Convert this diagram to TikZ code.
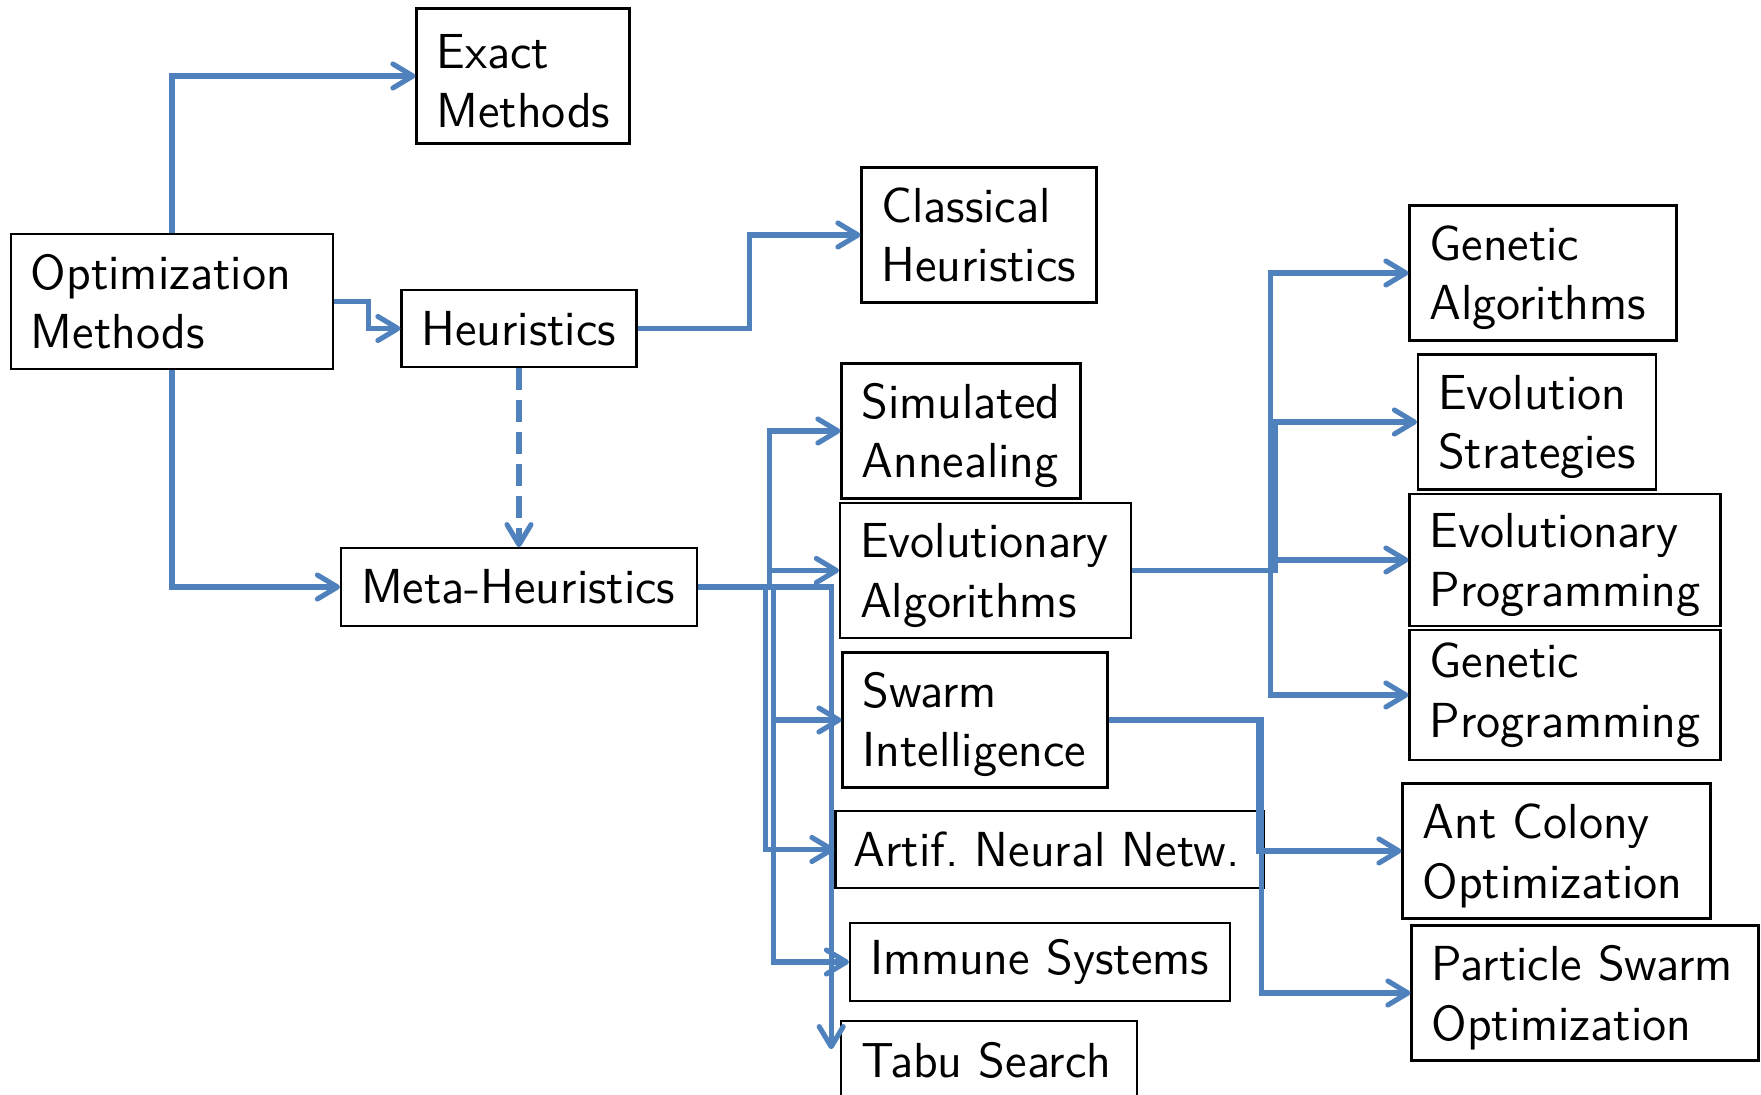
\documentclass[tikz,border=0pt]{standalone}
\usepackage{tikz}
\usetikzlibrary{positioning}
\usetikzlibrary{%
  calc,%
  arrows.meta%
}
\definecolor{linkblue}{RGB}{79,129,189}

\begin{document}
\begin{tikzpicture}[
  box/.style={draw=black, line width=0.6pt, align=left, inner xsep=0.2cm, inner ysep=0pt,
    font=\sffamily\fontsize{14}{16.9}\selectfont,
    execute at begin node={\hyphenpenalty=10000 \exhyphenpenalty=10000}},
  twoline/.style={box, minimum height=1.35cm},
  lowtext/.style={execute at begin node={\hyphenpenalty=10000 \rule{0pt}{12.6pt}}},
  oneline/.style={box, minimum height=0.775cm},
  link/.style={draw=linkblue, line width=1.45pt,
    -{Straight Barb[length=2mm,width=2.4mm,round]}},
  ]
\useasboundingbox (0,0) rectangle (17.61,-10.95);

\node[twoline, text width=2.82cm] (opt) at (1.72,-3.015) {Optimization\\Methods};

\node[twoline, lowtext, text width=1.73cm] (exact) at (5.23,-0.76) {Exact\\Methods};
\node[oneline, text width=1.95cm] (heur) at (5.19,-3.285) {Heuristics};
\node[oneline, text width=3.16cm] (meta) at (5.19,-5.87) {Meta-Heuristics};

\node[twoline, text width=1.95cm] (classic) at (9.79,-2.35) {Classical\\Heuristics};

\node[twoline, lowtext, text width=1.99cm] (sa) at (9.61,-4.31) {Simulated\\Annealing};
\node[twoline, lowtext, text width=2.51cm] (ea) at (9.855,-5.705) {Evolutionary\\Algorithms};
\node[twoline, lowtext, text width=2.25cm] (si) at (9.75,-7.2) {Swarm\\Intelligence};
\node[oneline, text width=3.92cm, inner xsep=0.18cm] (ann) at (10.495,-8.495) {Artif.~Neural~Netw.};
\node[oneline, text width=3.40cm] (immune) at (10.40,-9.62) {Immune~Systems};
\node[oneline, text width=2.555cm] (tabu) at (9.89,-10.6) {Tabu~Search};

\node[twoline, lowtext, text width=2.27cm] (ga) at (15.43,-2.73) {Genetic\\Algorithms};
\node[twoline, lowtext, text width=1.98cm] (es) at (15.37,-4.22) {Evolution\\Strategies};
\node[box, lowtext, text width=2.71cm, minimum height=1.315cm] (ep) at (15.65,-5.6) {Evolutionary\\Programming};
\node[box, text width=2.71cm, minimum height=1.3cm] (gp) at (15.65,-6.95) {Genetic\\Programming};

\node[twoline, lowtext, text width=2.68cm] (aco) at (15.565,-8.51) {Ant~Colony\\Optimization};
\node[twoline, lowtext, text width=3.07cm] (pso) at (15.85,-9.93) {Particle~Swarm\\Optimization};

% top level
\draw[link] (opt.north) |- (exact.west);
\draw[link] (opt.east) -- ++(0.34,0) |- (heur.west);
\draw[link] (opt.south) |- (meta.west);
\draw[link, dash pattern=on 0.22cm off 0.1cm] (heur.south) -- (meta.north);
\draw[link] (heur.east) -- ++(1.12,0) |- (classic.west);

% meta-heuristics
\draw[link] (meta.east) -- ++(0.71,0) |- (sa.west);
\draw[link] (meta.east) -- ++(0.71,0) |- (ea.west);
\draw[link] (meta.east) -- ++(0.75,0) |- (si.west);
\draw[link] (meta.east) -- ++(0.67,0) |- (ann.west);
\draw[link] (meta.east) -- ++(0.75,0) |- (immune.west);
\draw[link] (meta.east) -| ([xshift=-0.09cm,yshift=-0.29cm]tabu.north west);

% evolutionary
\draw[link] (ea.east) -- ++(1.38,0) |- (ga.west);
\draw[link] (ea.east) -- ++(1.43,0) |- (es.west);
\draw[link] (ea.east) -- ++(1.43,0) |- (ep.west);
\draw[link] (ea.east) -- ++(1.38,0) |- (gp.west);

% swarm
\draw[link] (si.east) -- ++(1.50,0) |- (aco.west);
\draw[link] (si.east) -- ++(1.53,0) |- (pso.west);
\end{tikzpicture}
\end{document}
